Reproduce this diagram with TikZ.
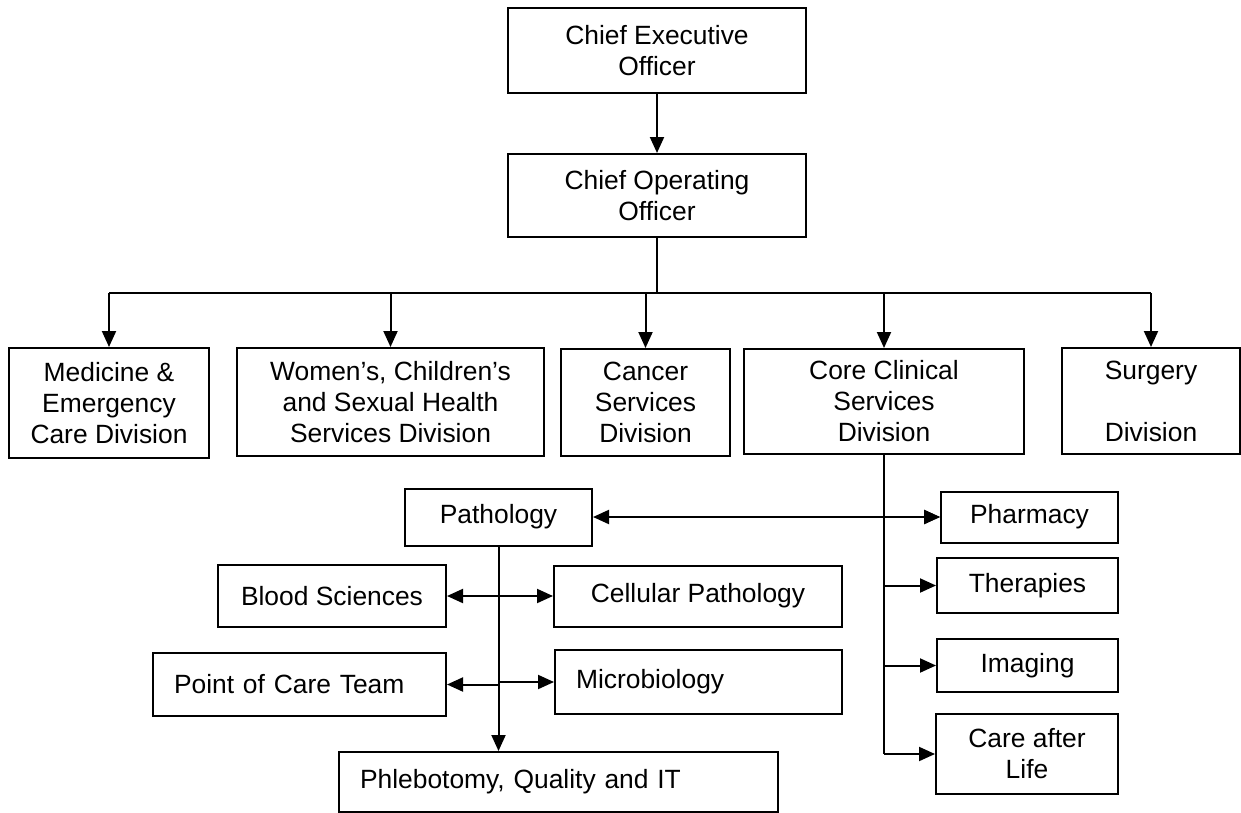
\documentclass[tikz,border=0pt]{standalone}
\usepackage{fontspec}
\setmainfont{Liberation Sans}
\usetikzlibrary{arrows.meta}
\begin{document}
\begin{tikzpicture}[x=0.5pt,y=-0.5pt,
  bx/.style 2 args={draw,line width=1pt,align=center,inner sep=0pt,
    minimum width=#1*0.5pt,minimum height=#2*0.5pt,
    font=\fontsize{13.2}{15.5}\selectfont},
  ln/.style={line width=1pt},
  arr/.style={ln,-{Triangle[length=8pt,width=7pt]}},
  darr/.style={ln,{Triangle[length=8pt,width=7pt]}-{Triangle[length=8pt,width=7pt]}}]
\useasboundingbox (0,0) rectangle (1241,813);
% nodes
\node[bx={298}{85}] (ceo) at (657,50.5) {Chief Executive\\Officer};
\node[bx={298}{83}] (coo) at (657,195.5) {Chief Operating\\Officer};
\node[bx={200}{110}] (med) at (109,403) {Medicine \&\\Emergency\\Care Division};
\node[bx={307}{108}] (wom) at (390.5,402) {Women’s, Children’s\\and Sexual Health\\Services Division};
\node[bx={169}{107}] (can) at (645.5,402.5) {Cancer\\Services\\Division};
\node[bx={280}{105}] (core) at (884,401.5) {Core Clinical\\Services\\Division};
\node[bx={178}{106}] (surg) at (1151,401) {Surgery\\\strut\\Division};
\node[bx={187}{57}] (path) at (498.5,517) {Pathology};
\node[bx={228}{62}] (blood) at (332,596) {Blood Sciences};
\node[bx={288}{61}] (cell) at (698,596) {Cellular Pathology};
\node[bx={293}{63},text width=125.5pt,align=left] (poc) at (299.5,684.5) {Point of Care Team};
\node[bx={287}{64},text width=122.5pt,align=left] (micro) at (698.5,682) {Microbiology};
\node[bx={439}{60},text width=198.5pt,align=left] (phleb) at (558.5,782) {Phlebotomy, Quality and IT};
\node[bx={177}{51}] (pharm) at (1029.5,517) {Pharmacy};
\node[bx={181}{55}] (ther) at (1027.5,585.5) {Therapies};
\node[bx={181}{53}] (imag) at (1027.5,665.5) {Imaging};
\node[bx={182}{80}] (cal) at (1027,754) {Care after\\Life};
% connectors
\coordinate (bus) at (657,293);
\draw[arr] (ceo.south) -- (coo.north);
\draw[ln] (coo.south) -- (bus);
\draw[ln] (med.north |- bus) -- (surg.north |- bus);
\foreach \n in {med,wom,can,core,surg} \draw[arr] (\n.north |- bus) -- (\n.north);
\draw[ln] (core.south) -- (core.south |- cal.west);
\foreach \n in {pharm,ther,imag,cal} \draw[arr] (core.south |- \n.west) -- (\n.west);
\draw[darr] (path.east) -- (pharm.west);
\draw[arr] (path.south) -- (path.south |- phleb.north);
\draw[darr] (blood.east) -- (cell.west);
\draw[arr] (path.south |- poc.east) -- (poc.east);
\draw[arr] (path.south |- micro.west) -- (micro.west);
\end{tikzpicture}
\end{document}
